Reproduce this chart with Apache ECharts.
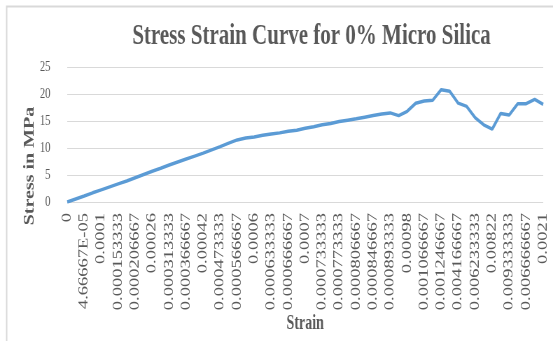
<!DOCTYPE html>
<html>
<head>
<meta charset="utf-8">
<script src="https://cdn.jsdelivr.net/npm/echarts@6/dist/echarts.min.js"></script>
<style>
  html, body { margin: 0; padding: 0; background: #fff; overflow: hidden; width: 553px; height: 341px; }
  /* the chart is laid out wide and then narrowed horizontally */
  #chart { width: 790px; height: 341px; transform: scaleX(0.7); transform-origin: 0 0; }
</style>
</head>
<body>
<div id="chart"></div>
<script>
// Strain values printed on the x axis (every second sample is labelled)
const strainLabels = [
  '0', '4.66667E-05', '0.0001', '0.000153333', '0.000206667', '0.00026',
  '0.000313333', '0.000366667', '0.00042', '0.000473333', '0.000566667',
  '0.0006', '0.000633333', '0.000666667', '0.0007', '0.000733333',
  '0.000773333', '0.000806667', '0.000846667', '0.000893333', '0.00098',
  '0.001066667', '0.001246667', '0.004166667', '0.006233333', '0.00822',
  '0.009333333', '0.006666667', '0.0021'
];

// Stress (MPa) for each sample
const stress = [
  0, 0.55, 1.1, 1.7, 2.25, 2.8, 3.35, 3.9, 4.5, 5.1,
  5.7, 6.25, 6.85, 7.4, 7.95, 8.5, 9.05, 9.65, 10.25, 10.9,
  11.5, 11.85, 12.05, 12.35, 12.6, 12.8, 13.1, 13.3, 13.65, 13.95,
  14.3, 14.55, 14.9, 15.15, 15.4, 15.7, 16.0, 16.3, 16.5, 16.0,
  16.8, 18.3, 18.7, 18.85, 20.8, 20.5, 18.3, 17.7, 15.6, 14.3,
  13.5, 16.4, 16.1, 18.2, 18.2, 19.0, 18.1
];

const yTicks = [0, 5, 10, 15, 20, 25];

// one category per sample; only even samples carry a printed strain
const categories = stress.map((_, i) => (i % 2 === 0 ? strainLabels[i / 2] : ''));

const serif = "'Liberation Serif', 'Times New Roman', serif";
const textGray = '#595959';

const chart = echarts.init(document.getElementById('chart'), null, { renderer: 'canvas' });
chart.setOption({
  backgroundColor: '#ffffff',
  animation: false,
  title: {
    text: 'Stress Strain Curve for 0% Micro Silica',
    left: 440, top: 16, textAlign: 'center',
    textStyle: { fontFamily: serif, fontWeight: 'bold', fontSize: 30, color: textGray }
  },
  grid: { left: 96, right: 14, top: 67, bottom: 139 },
  xAxis: {
    type: 'category',
    data: categories,
    boundaryGap: false,
    name: 'Strain',
    nameLocation: 'middle',
    nameGap: 108,
    nameTextStyle: { fontFamily: serif, fontWeight: 'bold', fontSize: 20, color: textGray },
    axisLine: { show: false },
    axisTick: { show: false },
    axisLabel: {
      interval: 0, rotate: 90, margin: 11,
      fontFamily: serif, fontSize: 18.5, color: textGray
    },
    splitLine: { show: false }
  },
  yAxis: {
    type: 'value',
    min: yTicks[0], max: yTicks[yTicks.length - 1], interval: 5,
    axisLine: { show: false },
    axisTick: { show: false },
    axisLabel: { margin: 24, fontFamily: serif, fontSize: 15, color: textGray },
    splitLine: { lineStyle: { color: '#d9d9d9', width: 1 } }
  },
  graphic: [
    {
      type: 'rect', left: 7, top: 4, silent: true,
      shape: { width: 2000, height: 2000 },
      style: { fill: 'none', stroke: '#d9d9d9', lineWidth: 2 }
    },
    {
      type: 'text', x: 43, y: 166, rotation: Math.PI / 2, silent: true,
      style: {
        text: 'Stress in MPa', fontFamily: serif, fontWeight: 'bold', fontSize: 20,
        fill: textGray, align: 'center', verticalAlign: 'middle'
      }
    }
  ],
  series: [{
    type: 'line',
    data: stress,
    symbol: 'none',
    lineStyle: { color: '#5b9bd5', width: 3.5 },
    itemStyle: { color: '#5b9bd5' }
  }]
});
</script>
</body>
</html>
